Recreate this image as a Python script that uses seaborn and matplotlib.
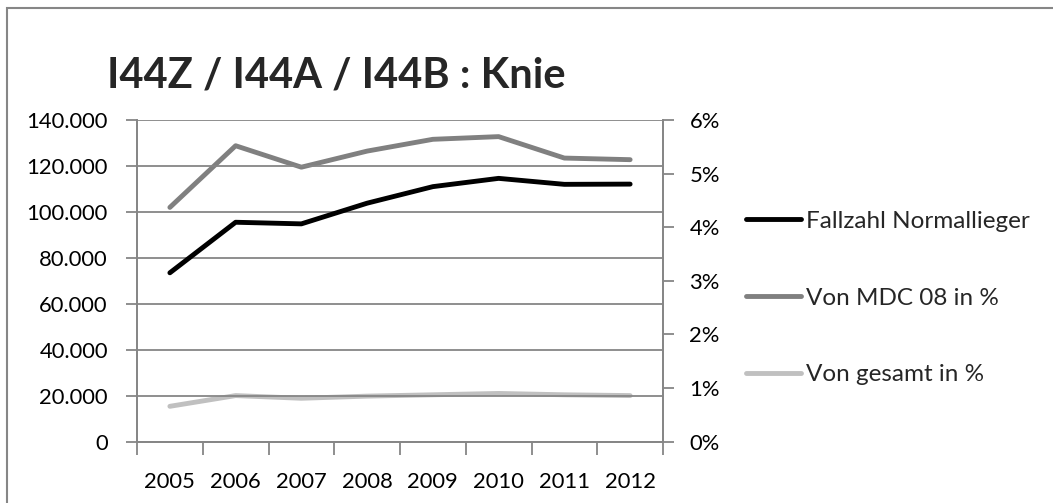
import matplotlib
matplotlib.use("Agg")
import matplotlib.pyplot as plt
import matplotlib.ticker as mticker
from matplotlib.patches import Rectangle
from matplotlib.lines import Line2D
import seaborn as sns
import pandas as pd
import numpy as np

years = ["2005", "2006", "2007", "2008", "2009", "2010", "2011", "2012"]
fallzahl = [73500, 95500, 94800, 103800, 111000, 114600, 112000, 112100]
von_mdc08 = [0.0437, 0.0552, 0.0512, 0.0542, 0.0564, 0.0569, 0.0529, 0.0526]
von_gesamt = [0.0066, 0.0086, 0.0081, 0.0085, 0.00875, 0.0090, 0.00875, 0.0086]
series_names = ["Fallzahl Normallieger", "Von MDC 08 in %", "Von gesamt in %"]
series_colors = ["#000000", "#808080", "#c0c0c0"]

sns.set_theme(style="white")
plt.rcParams["font.family"] = ["Lato", "DejaVu Sans"]

W, H = 1053, 503
fig = plt.figure(figsize=(W / 100, H / 100), dpi=100)
fig.patch.set_facecolor("white")

left, right, bottom, top = 137, 663, 441.7, 120
ax = fig.add_axes([left / W, 1 - bottom / H, (right - left) / W, (bottom - top) / H])
ax2 = ax.twinx()

pos = np.arange(len(years))
df_left = pd.DataFrame({"x": pos, "y": fallzahl})
df_right = pd.DataFrame({
    "x": np.concatenate([pos, pos]),
    "y": von_mdc08 + von_gesamt,
    "serie": [series_names[1]] * len(years) + [series_names[2]] * len(years),
})

lw = 3.5
sns.lineplot(data=df_left, x="x", y="y", ax=ax, color=series_colors[0], lw=lw,
             solid_capstyle="round", solid_joinstyle="round", legend=False)
sns.lineplot(data=df_right, x="x", y="y", hue="serie", ax=ax2,
             palette={series_names[1]: series_colors[1], series_names[2]: series_colors[2]},
             lw=lw, solid_capstyle="round", solid_joinstyle="round", legend=False)
# gray series should sit beneath the black one where they cross
ax.set_zorder(ax2.get_zorder() + 1)
ax.patch.set_visible(False)

axis_gray = "#868686"
fs = 15.8

# left axis
ax.set_xlim(-0.5, len(years) - 0.5)
ax.set_ylim(0, 140000)
ax.yaxis.set_major_locator(mticker.MultipleLocator(20000))
ax.yaxis.set_major_formatter(mticker.FuncFormatter(lambda v, p: f"{int(v):,}".replace(",", ".")))
ax.grid(axis="y", color=axis_gray, lw=1.3)
ax.set_axisbelow(True)
ax.set_xticks(pos)
ax.set_xticklabels(years)
ax.set_xticks(np.arange(-0.5, len(years)), minor=True)
ax.tick_params(axis="x", which="major", length=0, pad=22, labelsize=fs, colors="black")
ax.tick_params(axis="x", which="minor", length=9, width=1.3, color=axis_gray, direction="out", bottom=True)
ax.tick_params(axis="y", length=8, width=1.3, color=axis_gray, direction="out", pad=13,
               labelsize=fs, labelcolor="black", left=True)
ax.set_xlabel("")
ax.set_ylabel("")

# right axis
ax2.set_ylim(0, 0.06)
ax2.yaxis.set_major_locator(mticker.MultipleLocator(0.01))
ax2.yaxis.set_major_formatter(mticker.PercentFormatter(xmax=1, decimals=0))
ax2.tick_params(axis="y", length=8, width=1.3, color=axis_gray, direction="out", pad=11,
                labelsize=fs, labelcolor="black", right=True)
ax2.set_ylabel("")
ax2.grid(False)

for a in (ax, ax2):
    a.spines["top"].set_visible(False)
    for side in ("left", "right", "bottom"):
        a.spines[side].set_color(axis_gray)
        a.spines[side].set_linewidth(1.3)

# legend
leg_fs = 17.5
handles = [Line2D([0], [0], color=c, lw=lw, solid_capstyle="round") for c in series_colors]
fig.legend(handles, series_names, loc="center left",
           bbox_to_anchor=(746 / W, 1 - 298 / H), frameon=False, fontsize=leg_fs,
           handlelength=2.25, handletextpad=0.2, labelspacing=2.3, borderpad=0,
           borderaxespad=0)

# title
fig.text(107 / W, 1 - 87 / H, "I44Z / I44A / I44B : Knie", fontsize=30, fontweight="bold",
         ha="left", va="baseline")

# chart frame
fig.patches.append(Rectangle((7 / W, -0.2), 1.2, 1 - 8 / H + 0.2, transform=fig.transFigure,
                             fill=False, edgecolor=axis_gray, lw=1.5))

fig.savefig("out.png", dpi=100)
